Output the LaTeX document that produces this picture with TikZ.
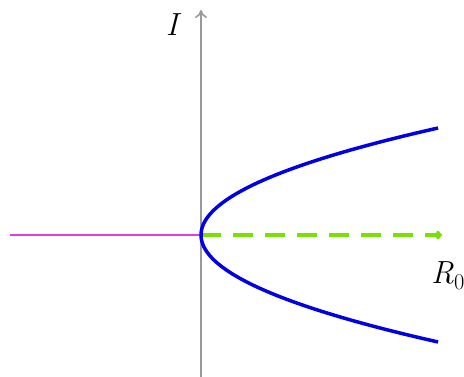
\documentclass[tikz,border=0pt]{standalone}
\usepackage{fontspec}
\usetikzlibrary{arrows.meta}
\definecolor{chart}{RGB}{120,225,0}
\definecolor{mag}{RGB}{225,60,225}
\begin{document}
\begin{tikzpicture}[x=1pt,y=-1pt,
  axis/.style={draw=gray!80,line width=1.6pt},
  branch/.style={draw=blue!90!black,line width=3.5pt},
  stable/.style={draw=mag,line width=1.3pt},
  unstable/.style={draw=chart,line width=3.5pt,dash pattern=on 20pt off 12pt},
  lbl/.style={font=\fontsize{32}{38}\selectfont\itshape}]
\useasboundingbox (0,0) rectangle (464,377);
\coordinate (O) at (201,235);
\coordinate (ybot) at (201,377);
\coordinate (ytop) at (201,10);
\coordinate (xl) at (10,235);
\coordinate (xr) at (442,235);
\draw[axis,-{To[length=8pt,width=12pt]}] (ybot) -- (ytop);
\draw[stable] (xl) -- (O);
\draw[unstable,-{To[length=6pt,width=9pt]}] (O) -- (xr);
\draw[branch] plot[domain=-107:107,samples=80,variable=\t] ({201+0.0207*\t*\t},{235+\t});
\node[lbl] (I) at (172,25) {I};
\node[lbl,anchor=west,inner sep=0pt] (R) at (431,276) {R\textsubscript{\upshape 0}};
\end{tikzpicture}
\end{document}
